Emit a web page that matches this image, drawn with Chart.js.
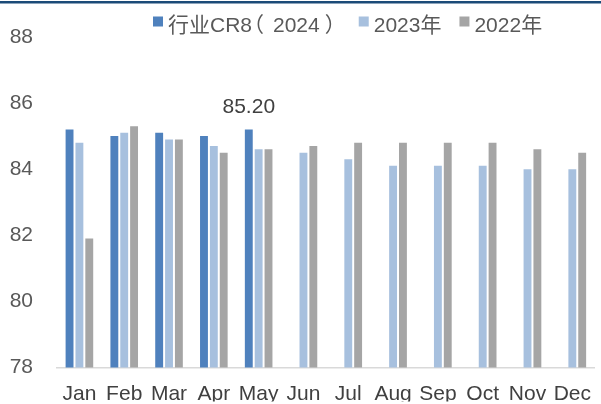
<!DOCTYPE html>
<html>
<head>
<meta charset="utf-8">
<script src="https://cdn.jsdelivr.net/npm/chart.js@4"></script>
<style>
  html, body { margin: 0; padding: 0; background: #fff; overflow: hidden; }
  #wrap { width: 601px; height: 404px; position: relative; overflow: hidden; }
</style>
</head>
<body>
<div id="wrap"><canvas id="chart" width="605" height="404"></canvas></div>
<script>
// data
const months = ['Jan', 'Feb', 'Mar', 'Apr', 'May', 'Jun', 'Jul', 'Aug', 'Sep', 'Oct', 'Nov', 'Dec'];
const cr8_2024 = [85.2, 85.0, 85.1, 85.0, 85.2, null, null, null, null, null, null, null];
const cr8_2023 = [84.8, 85.1, 84.9, 84.7, 84.6, 84.5, 84.3, 84.1, 84.1, 84.1, 84.0, 84.0];
const cr8_2022 = [81.9, 85.3, 84.9, 84.5, 84.6, 84.7, 84.8, 84.8, 84.8, 84.8, 84.6, 84.5];
const seriesNames = ['行业CR8（2024）', '2023年', '2022年'];
const yTicks = [78, 80, 82, 84, 86, 88];
const labelIndex = 4; // May 2024 gets a value label

const FONT = '"Liberation Sans", Arial, "Noto Sans CJK SC", sans-serif';
const FS = 21;

// draws text, giving full-width brackets a full em cell with the ink placed like the original
function drawLabel(ctx, text, x, y) {
    let run = '';
    const flush = () => {
        if (run) { ctx.fillText(run, x, y); x += ctx.measureText(run).width; run = ''; }
    };
    for (const ch of text) {
        if (ch === '（' || ch === '）') {
            flush();
            const m = ctx.measureText(ch);
            if (ch === '（') ctx.fillText(ch, x + 5 + m.actualBoundingBoxLeft, y);
            else ctx.fillText(ch, x + 12 - m.actualBoundingBoxRight, y);
            x += FS;
        } else {
            run += ch;
        }
    }
    flush();
    return x;
}

// top rule + legend + value label
const decor = {
    id: 'decor',
    beforeDraw(chart) {
        const ctx = chart.ctx;
        ctx.save();
        ctx.fillStyle = '#1B4B78';
        ctx.fillRect(0, 1, chart.width, 2.5);
        ctx.restore();
    },
    afterDatasetsDraw(chart) {
        const ctx = chart.ctx;
        ctx.save();
        ctx.font = FS + 'px ' + FONT;
        ctx.textBaseline = 'alphabetic';
        let x = 153;
        chart.data.datasets.forEach((ds) => {
            ctx.fillStyle = ds.backgroundColor;
            ctx.fillRect(x, 16.5, 10, 10);
            ctx.fillStyle = '#595959';
            x = drawLabel(ctx, ds.label, x + 15, 32) + 18;
        });
        const bar = chart.getDatasetMeta(0).data[labelIndex];
        ctx.fillStyle = '#404040';
        ctx.textAlign = 'center';
        ctx.textBaseline = 'bottom';
        ctx.fillText(cr8_2024[labelIndex].toFixed(2), bar.x, bar.y - 12);
        ctx.restore();
    }
};

new Chart(document.getElementById('chart'), {
    type: 'bar',
    data: {
        labels: months,
        datasets: [
            { label: seriesNames[0], data: cr8_2024, backgroundColor: '#4F81BD' },
            { label: seriesNames[1], data: cr8_2023, backgroundColor: '#A7C0DE' },
            { label: seriesNames[2], data: cr8_2022, backgroundColor: '#A5A5A5' }
        ]
    },
    options: {
        responsive: false,
        animation: false,
        layout: { padding: { top: 37, left: 0, right: 0, bottom: 0 } },
        datasets: {
            bar: { categoryPercentage: 0.66, barPercentage: 0.8 }
        },
        plugins: {
            legend: { display: false },
            tooltip: { enabled: false }
        },
        scales: {
            x: {
                grid: { display: false, drawTicks: false },
                border: { color: '#D9D9D9', width: 1.5 },
                ticks: { color: '#404040', font: { size: FS, family: FONT }, padding: 14, maxRotation: 0, autoSkip: false },
                afterFit(scale) { scale.height = 34; }
            },
            y: {
                min: 78,
                max: 88,
                grid: { display: false, drawTicks: false },
                border: { display: false },
                afterBuildTicks(scale) { scale.ticks = yTicks.map(v => ({ value: v })); },
                ticks: { color: '#595959', font: { size: FS, family: FONT }, padding: 24 },
                afterFit(scale) { scale.width = 57; }
            }
        }
    },
    plugins: [decor]
});
</script>
</body>
</html>
